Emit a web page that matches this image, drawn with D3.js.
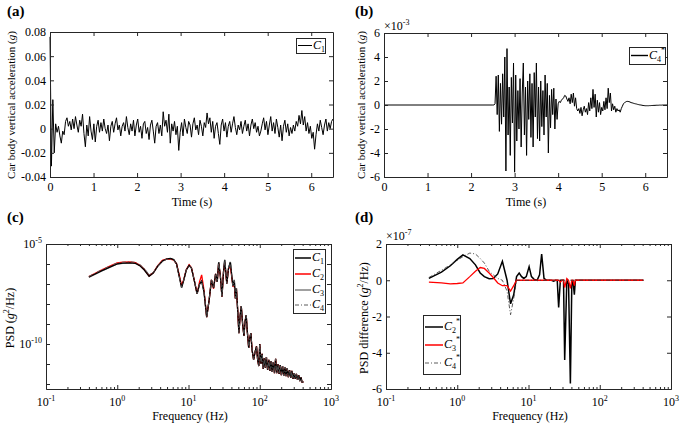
<!DOCTYPE html>
<html>
<head>
<meta charset="utf-8">
<title>Car body acceleration and PSD</title>
<script src="https://d3js.org/d3.v7.min.js"></script>
<style>
  body { margin: 0; background: #fff; }
  svg { display: block; font-family: "Liberation Serif", "DejaVu Serif", serif; }
</style>
</head>
<body>
<svg id="chart" width="685" height="431"></svg>
<script>
// (a) car body vertical acceleration of C1, in 1e-3 g, one sample every 0.0325 s from 0 to 6.5 s
const accStepA = 0.0325;
const accC1 = [
  76, -31, 24, -20, 4, -3, 2, -6, -12, -2,
  -5, 6, 9, 2, 6, -1, 8, 0, 10, 3,
  -3, 7, 2, 12, -4, -15, 3, -6, 10, -2,
  -9, 4, -11, 2, 7, -3, 5, -2, 8, 0,
  -4, 3, -10, 2, 6, -3, 4, 9, -1, 3,
  -6, 2, 5, -2, 10, 1, -5, 4, -2, 7,
  -6, 3, 8, -3, 2, -8, 4, 6, -4, 1,
  -9, 3, 7, -2, -12, 2, 5, -4, 3, -6,
  14, 2, 7, -3, 12, -12, 4, -2, 6, -5,
  2, -18, -3, 5, -6, 8, 1, -4, 6, 3,
  -7, 4, 9, -1, 3, -5, 7, 2, -6, 5,
  1, 13, 4, 9, -3, 6, -8, 2, 5, -4,
  -13, 3, 8, -2, 5, -7, 2, 6, -3, 4,
  10, 1, -5, 3, -1, 6, -4, 2, 7, -2,
  4, -6, 3, 8, 0, 5, -3, 2, -6, -2,
  4, 9, -1, 6, -5, 3, 10, -2, 5, -4,
  8, 1, -7, 3, -10, 2, 7, -3, 4, -6,
  1, -4, 3, -2, 6, 2, 11, 4, 15, 3,
  10, -2, 5, -4, 2, -8, -3, -17, -5, 4,
  -2, 7, 1, -5, 3, 8, -2, 5, 0, 6,
  8
];

// (b) C4* acceleration, in 1e-3 g: zero at t = 0, then one sample every 0.025 s from 2.5 s
const accStartB = 2.5, accStepB = 0.025;
const accC4 = [
  0, 0, 0.1, 2.4, -0.8, 2.5, -2.2, 1.8, -1.6, 2.6,
  -1.0, 4.0, -5.5, 4.7, -2.5, 1.5, -4.2, 2.3, -1.5, 3.5,
  -5.6, 2.5, -3.0, 1.2, -2.0, 2.2, -3.5, 1.0, 3.5, -2.5,
  1.5, -4.2, 2.0, -1.2, 2.6, -2.7, 1.8, -3.5, 2.7, -1.0,
  3.5, -2.8, 1.5, -3.0, 2.0, -1.8, 1.2, -2.5, 2.5, -1.0,
  1.8, -4.0, 0.8, -1.9, 1.3, -0.8, 1.4, -2.0, 0.5, -1.2,
  0.1, 0.3, 0.2, 0.4, 0.5, 0.6, 0.8, 0.75, 0.5, 0.3,
  0.6, 0.1, 0.9, 0.2, 1.0, -0.1, 0.6, -0.3, -0.5, -0.3,
  -0.7, -0.2, -0.9, -0.4, -0.1, -0.6, -0.3, -0.8, 0.2, -0.5,
  0.6, -0.3, 1.3, -0.2, 0.9, -1.0, 0.4, -0.6, 0.2, -0.8,
  -0.2, -0.5, 0.3, -0.4, 0.6, -0.3, 1.4, 0.2, 1.0, -0.5,
  0.1, -0.4, -0.1, -0.6, -0.3, -0.5, -0.4, -0.6, -0.3, -0.1,
  0.1, 0.2, 0.25, 0.3, 0.3, 0.28, 0.25, 0.2, 0.18, 0.15,
  0.12, 0.1, 0.08, 0.05, 0.03, 0.01, 0, -0.02, -0.04, -0.05,
  -0.06, -0.06, -0.06, -0.06, -0.05, -0.05, -0.04, -0.04, -0.03, -0.03,
  -0.02, -0.02, -0.02, -0.01, -0.01, -0.01, 0, 0, 0, 0,
  0
];

// (c)/(d) frequency grid, Hz
const freqHz = [
  0.4, 0.6, 0.8, 1.0, 1.2, 1.5, 1.8, 2.1, 2.4, 2.8,
  3.2, 3.7, 4.3, 5.0, 5.6, 6.2, 6.8, 7.4, 8.0, 8.6,
  9.3, 10.2, 11.0, 12.0, 13.2, 14.3, 15.3, 16.5, 18.0, 19.5,
  21.0, 22.5, 24.0, 25.3, 26.5, 28.0, 29.5, 31.0, 32.2, 34.5,
  36.5, 38.7, 40.5, 42.0, 44.0, 45.5, 47.0, 49.0, 51.0, 53.0,
  55.0, 57.5, 60.0, 62.0, 64.5, 67.0, 70.0, 72.5, 75.0, 78.0,
  82.0, 86.0, 90.0, 93.5, 97.0, 100, 104, 108, 112, 116,
  120, 124, 129, 134, 139, 144, 149, 155, 161, 167,
  173, 180, 187, 194, 201, 209, 217, 225, 234, 243,
  252, 262, 272, 282, 293, 304, 315, 327, 339, 352,
  365, 378, 392, 410
];

// (c) PSD of C1, g^2/Hz
const psdC1 = [
  2.24e-7, 4.57e-7, 7.2e-7, 1.02e-6, 1.1e-6, 1.15e-6, 1.07e-6, 7.9e-7, 5.0e-7, 2.4e-7,
  3.5e-7, 7.9e-7, 1.41e-6, 1.82e-6, 1.9e-6, 1.66e-6, 1.0e-6, 2.5e-7, 6.6e-8, 1.6e-7,
  5.0e-7, 8.5e-7, 6.3e-7, 1.6e-7, 3.2e-8, 1.0e-7, 1.4e-7, 4.0e-8, 2.2e-9, 1.6e-8,
  1.6e-7, 6.3e-8, 3.2e-7, 1.26e-7, 1.23e-6, 2.5e-7, 2.3e-8, 4.0e-7, 1.62e-6, 1.05e-7,
  6.3e-7, 1.26e-6, 2.5e-7, 7.8e-8, 1.6e-7, 1.9e-8, 6.3e-8, 5.0e-9, 3.5e-10, 2.5e-9,
  7.9e-9, 1.0e-9, 2.5e-10, 1.26e-9, 2.8e-9, 4.0e-10, 6.3e-11, 2.0e-10, 3.5e-10, 5.0e-11,
  1.66e-11, 4.0e-11, 7.6e-11, 1.6e-11, 7.9e-12, 1.0e-10, 1.0e-11, 3.2e-11, 5.6e-12, 2.0e-11,
  6.3e-12, 2.2e-11, 5.0e-12, 1.6e-11, 4.5e-12, 1.4e-11, 4.0e-12, 1.26e-11, 3.5e-12, 1.8e-11,
  3.5e-12, 1.0e-11, 3.2e-12, 8.9e-12, 2.8e-12, 7.9e-12, 2.5e-12, 7.1e-12, 2.5e-12, 6.3e-12,
  2.2e-12, 5.0e-12, 2.0e-12, 4.5e-12, 1.8e-12, 3.5e-12, 1.8e-12, 3.2e-12, 1.6e-12, 2.8e-12,
  1.4e-12, 2.2e-12, 1.26e-12, 1.26e-12
];

// (d) PSD difference to C1, in 1e-7 g^2/Hz
const diffC2 = [
  0.1, 0.45, 0.8, 1.15, 1.4, 1.2, 0.85, 0.4, 0.2, 0.08,
  0.1, 0.35, 1.05, 0, -1.3, -0.8, 0.2, 0.4, 0.2, 0.1,
  0.2, 0.75, 0.2, 0.05, 0, 0.3, 1.45, 0.1, 0, 0,
  0, -0.05, 0, 0, -1.5, 0, 0, 0, -4.4, 0,
  -0.2, -5.7, -0.3, 0, -0.8, 0, 0, 0, 0, 0,
  0, 0, 0, 0, 0, 0, 0, 0, 0, 0,
  0, 0, 0, 0, 0, 0, 0, 0, 0, 0,
  0, 0, 0, 0, 0, 0, 0, 0, 0, 0,
  0, 0, 0, 0, 0, 0, 0, 0, 0, 0,
  0, 0, 0, 0, 0, 0, 0, 0, 0, 0,
  0, 0, 0, 0
];
const diffC3 = [
  -0.1, -0.15, -0.2, -0.18, -0.15, 0.2, 0.5, 0.7, 0.65, 0.4,
  0.15, -0.15, -0.3, -0.3, -0.6, -0.3, 0, 0, 0, 0,
  0, 0, 0, 0, 0, 0, 0, 0, 0, 0,
  0, 0, 0, 0, 0, -0.1, 0, 0, -0.4, 0.1,
  0, -0.45, 0, 0, -0.3, 0, 0, 0, 0, 0,
  0, 0, 0, 0, 0, 0, 0, 0, 0, 0,
  0, 0, 0, 0, 0, 0, 0, 0, 0, 0,
  0, 0, 0, 0, 0, 0, 0, 0, 0, 0,
  0, 0, 0, 0, 0, 0, 0, 0, 0, 0,
  0, 0, 0, 0, 0, 0, 0, 0, 0, 0,
  0, 0, 0, 0
];
const diffC4 = [
  0.15, 0.55, 0.85, 1.1, 1.3, 1.5, 1.45, 1.2, 0.95, 0.5,
  0.3, 0.1, 0, -0.6, -1.9, -1.0, 0, 0, 0, 0,
  0, 0, 0, 0, 0, 0, 0, 0, 0, 0,
  0, 0, 0, 0, 0, 0, 0, 0, 0, 0,
  0, 0, 0, 0, 0, 0, 0, 0, 0, 0,
  0, 0, 0, 0, 0, 0, 0, 0, 0, 0,
  0, 0, 0, 0, 0, 0, 0, 0, 0, 0,
  0, 0, 0, 0, 0, 0, 0, 0, 0, 0,
  0, 0, 0, 0, 0, 0, 0, 0, 0, 0,
  0, 0, 0, 0, 0, 0, 0, 0, 0, 0,
  0, 0, 0, 0
];

const timeTicks = [0, 1, 2, 3, 4, 5, 6];
const accTicksA = [-0.04, -0.02, 0, 0.02, 0.04, 0.06, 0.08];
const accTicksB = [-6, -4, -2, 0, 2, 4, 6];
const diffTicks = [-6, -4, -2, 0, 2];
const freqTicks = [0.1, 1, 10, 100, 1000];
const psdTicks = [1e-12, 1e-11, 1e-10, 1e-9, 1e-8, 1e-7, 1e-6, 1e-5];
const psdLabelled = [1e-10, 1e-5];

const svg = d3.select("#chart");
const ink = "#262626";
const serif = '"Liberation Serif", "DejaVu Serif", serif';

function supText(sel, base, sup) {
  sel.append("tspan").text(base);
  sel.append("tspan").attr("font-size", 8).attr("dy", -5).text(sup);
}

function frame(g, x, y, o) {
  const [xl, xr] = x.range();
  const [yb, yt] = y.range();
  const blank = () => "";
  const axes = [
    g.append("g").attr("transform", `translate(0,${yb})`)
      .call(d3.axisBottom(x).tickValues(o.xTicks).tickSizeInner(-4).tickSizeOuter(0).tickPadding(5)
        .tickFormat(o.xLog ? blank : d => String(d))),
    g.append("g").attr("transform", `translate(0,${yt})`)
      .call(d3.axisTop(x).tickValues(o.xTicks).tickSizeInner(-4).tickSizeOuter(0).tickFormat(blank)),
    g.append("g").attr("transform", `translate(${xl},0)`)
      .call(d3.axisLeft(y).tickValues(o.yTicks).tickSizeInner(-4).tickSizeOuter(0).tickPadding(4)
        .tickFormat(o.yLog ? blank : o.yFormat)),
    g.append("g").attr("transform", `translate(${xr},0)`)
      .call(d3.axisRight(y).tickValues(o.yTicks).tickSizeInner(-4).tickSizeOuter(0).tickFormat(blank))
  ];
  if (o.xLog) {
    const minor = [];
    o.xTicks.slice(0, -1).forEach(d => { for (let k = 2; k < 10; k++) minor.push(d * k); });
    axes.push(g.append("g").attr("transform", `translate(0,${yb})`)
      .call(d3.axisBottom(x).tickValues(minor).tickSizeInner(-2).tickSizeOuter(0).tickFormat(blank)));
    axes.push(g.append("g").attr("transform", `translate(0,${yt})`)
      .call(d3.axisTop(x).tickValues(minor).tickSizeInner(-2).tickSizeOuter(0).tickFormat(blank)));
    o.xTicks.forEach(d => {
      const t = g.append("text").attr("x", x(d)).attr("y", yb + 17).attr("text-anchor", "middle")
        .attr("font-size", 12);
      supText(t, "10", String(Math.round(Math.log10(d))));
    });
  }
  if (o.yLog) {
    o.yLabelled.forEach(d => {
      const t = g.append("text").attr("x", xl - 4).attr("y", y(d) + 4).attr("text-anchor", "end")
        .attr("font-size", 12);
      supText(t, "10", String(Math.round(Math.log10(d))));
    });
  }
  axes.forEach(a => a.attr("font-family", serif).attr("font-size", 12));
  g.selectAll(".domain").attr("stroke", ink);
  g.selectAll(".tick line").attr("stroke", ink);
  g.selectAll(".tick text").attr("fill", "#000");
}

function legend(g, x0, y0, w, h, rows) {
  g.append("rect").attr("x", x0 + 0.5).attr("y", y0 + 0.5).attr("width", w).attr("height", h)
    .attr("fill", "#fff").attr("stroke", ink);
  rows.forEach(r => {
    g.append("line").attr("x1", x0 + 2).attr("x2", x0 + r.len).attr("y1", r.y).attr("y2", r.y)
      .attr("stroke", r.color).attr("stroke-width", r.width).attr("stroke-dasharray", r.dash || null);
    const t = g.append("text").attr("x", x0 + r.len + 1).attr("y", r.y + 3).attr("font-size", 12);
    t.append("tspan").attr("font-style", "italic").text("C");
    t.append("tspan").attr("font-size", 8).attr("dy", 3).text(r.sub);
    if (r.star) t.append("tspan").attr("font-size", 8).attr("dy", -9).text("*");
  });
}

function panelTag(x, y, s) {
  svg.append("text").attr("x", x).attr("y", y).attr("font-weight", "bold").attr("font-size", 15).text(s);
}

function yTitle(x, y, size, parts) {
  const t = svg.append("text").attr("transform", `translate(${x},${y}) rotate(-90)`)
    .attr("text-anchor", "middle").attr("font-size", size);
  parts.forEach(p => {
    const s = t.append("tspan").text(p.text);
    if (p.italic) s.attr("font-style", "italic");
    if (p.sup) s.attr("font-size", 8).attr("dy", -5);
    if (p.down) s.attr("dy", 5);
  });
}

function xTitle(x, y, s) {
  svg.append("text").attr("x", x).attr("y", y).attr("text-anchor", "middle").attr("font-size", 12).text(s);
}

// ---------- (a)
const xa = d3.scaleLinear().domain([0, 6.5]).range([50, 333]);
const ya = d3.scaleLinear().domain([-0.04, 0.08]).range([177, 32]);
const ga = svg.append("g");
ga.append("path").datum(accC1)
  .attr("fill", "none").attr("stroke", "#000").attr("stroke-width", 1)
  .attr("d", d3.line().x((d, i) => xa(i * accStepA)).y(d => ya(d / 1000)));
frame(ga, xa, ya, { xTicks: timeTicks, yTicks: accTicksA, yFormat: d => d === 0 ? "0" : d.toFixed(2) });
legend(ga, 296, 38, 29, 15, [{ y: 45.5, len: 16, color: "#000", width: 1, sub: "1" }]);
panelTag(7, 16, "(a)");
xTitle(192, 206, "Time (s)");
yTitle(15, 105, 11, [{ text: "Car body vertical acceleration (" }, { text: "g", italic: true }, { text: ")" }]);

// ---------- (b)
const xb = d3.scaleLinear().domain([0, 6.5]).range([384, 667]);
const yb = d3.scaleLinear().domain([-6, 6]).range([177, 33]);
const gb = svg.append("g");
const c4Points = [[0, 0]].concat(accC4.map((v, k) => [accStartB + k * accStepB, v]));
gb.append("path").datum(c4Points)
  .attr("fill", "none").attr("stroke", "#000").attr("stroke-width", 1)
  .attr("d", d3.line().x(d => xb(d[0])).y(d => yb(d[1])));
frame(gb, xb, yb, { xTicks: timeTicks, yTicks: accTicksB, yFormat: d => String(d) });
legend(gb, 629, 47, 36, 17, [{ y: 55.5, len: 19, color: "#000", width: 1.4, sub: "4", star: true }]);
panelTag(355, 16, "(b)");
xTitle(526, 206, "Time (s)");
yTitle(365, 105, 11, [{ text: "Car body vertical acceleration (" }, { text: "g", italic: true }, { text: ")" }]);
const eb = svg.append("text").attr("x", 384).attr("y", 30).attr("font-size", 12);
supText(eb, "\u00d710", "-3");

// ---------- (c)
const xc = d3.scaleLog().domain([0.1, 1000]).range([46, 331]);
const yc = d3.scaleLog().domain([Math.pow(10, -12.25), 1e-5]).range([389, 244]);
const gc = svg.append("g");
const psdSeries = [
  { diff: diffC3, color: "#808080", width: 1.3 },
  { diff: diffC2, color: "#ff0000", width: 1.3 },
  { diff: null, color: "#000", width: 1.3 },
  { diff: diffC4, color: "#5a5a5a", width: 0.9, dash: "4,2,1,2" }
];
const psdLine = d3.line().x(d => xc(d[0])).y(d => yc(d[1]));
psdSeries.forEach(s => {
  const pts = freqHz.map((f, i) => [f, psdC1[i] + (s.diff ? s.diff[i] * 1e-7 : 0)]);
  gc.append("path").datum(pts).attr("fill", "none").attr("stroke", s.color)
    .attr("stroke-width", s.width).attr("stroke-dasharray", s.dash || null).attr("d", psdLine);
});
frame(gc, xc, yc, { xLog: true, yLog: true, xTicks: freqTicks, yTicks: psdTicks, yLabelled: psdLabelled });
legend(gc, 293, 249, 32, 64, [
  { y: 258, len: 18, color: "#000", width: 1.5, sub: "1" },
  { y: 274, len: 18, color: "#ff0000", width: 1.5, sub: "2" },
  { y: 290, len: 18, color: "#808080", width: 1.5, sub: "3" },
  { y: 305, len: 18, color: "#5a5a5a", width: 1, sub: "4", dash: "4,2,1,2" }
]);
panelTag(7, 222, "(c)");
xTitle(190, 420, "Frequency (Hz)");
yTitle(14, 318, 12, [{ text: "PSD (" }, { text: "g", italic: true }, { text: "2", sup: true }, { text: "/Hz)", down: true }]);

// ---------- (d)
const xd = d3.scaleLog().domain([0.1, 1000]).range([386, 671]);
const yd = d3.scaleLinear().domain([-6, 2]).range([389, 244]);
const gd = svg.append("g");
const diffLine = d3.line().x(d => xd(d[0])).y(d => yd(d[1]));
[
  { vals: diffC2, color: "#000", width: 1.5 },
  { vals: diffC3, color: "#ff0000", width: 1.3 },
  { vals: diffC4, color: "#333", width: 0.8, dash: "4,2,1,2" }
].forEach(s => {
  gd.append("path").datum(freqHz.map((f, i) => [f, s.vals[i]])).attr("fill", "none")
    .attr("stroke", s.color).attr("stroke-width", s.width).attr("stroke-dasharray", s.dash || null)
    .attr("d", diffLine);
});
frame(gd, xd, yd, { xLog: true, xTicks: freqTicks, yTicks: diffTicks, yFormat: d => String(d) });
legend(gd, 423, 315, 37, 59, [
  { y: 327, len: 20, color: "#000", width: 1.5, sub: "2", star: true },
  { y: 345, len: 20, color: "#ff0000", width: 1.5, sub: "3", star: true },
  { y: 363, len: 20, color: "#333", width: 0.8, sub: "4", star: true, dash: "4,2,1,2" }
]);
panelTag(355, 222, "(d)");
xTitle(530, 420, "Frequency (Hz)");
yTitle(368, 318, 12, [{ text: "PSD difference (" }, { text: "g", italic: true }, { text: "2", sup: true }, { text: "/Hz)", down: true }]);
const ed = svg.append("text").attr("x", 386).attr("y", 240).attr("font-size", 12);
supText(ed, "\u00d710", "-7");
</script>
</body>
</html>
